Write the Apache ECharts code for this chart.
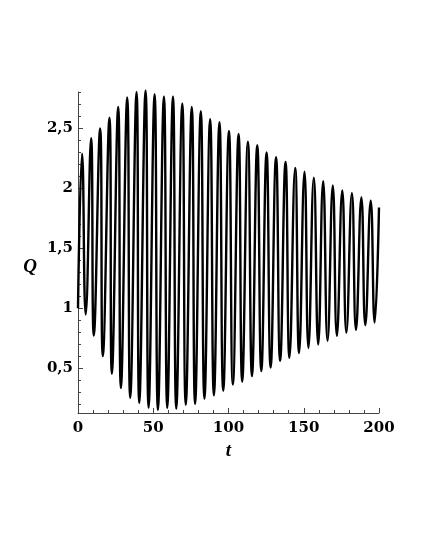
<!DOCTYPE html>
<html><head><meta charset="utf-8">
<script src="https://cdn.jsdelivr.net/npm/echarts@6/dist/echarts.min.js"></script>
<style>html,body{margin:0;padding:0;background:#fff}#c{width:425px;height:550px}</style>
</head><body><div id="c"></div>
<script>
// Start and end of the curve
const startT = 0, startQ = 1.0;
const endT = 200, endQ = 1.84;
// Local maxima of Q(t)
const peakT = [2.7, 8.7, 14.7, 20.9, 26.7, 32.7, 38.9, 44.9, 50.9, 57.1, 63.1, 69.3, 75.6, 81.6, 87.8, 94.0,
  100.3, 106.7, 112.9, 119.1, 125.3, 131.6, 137.9, 144.3, 150.5, 156.7, 162.9, 169.3, 175.6, 182.0, 188.3, 194.5];
const peakQ = [2.29, 2.42, 2.50, 2.59, 2.68, 2.76, 2.805, 2.817, 2.786, 2.767, 2.767, 2.71, 2.68, 2.645, 2.578, 2.553,
  2.48, 2.455, 2.39, 2.36, 2.30, 2.26, 2.22, 2.17, 2.14, 2.09, 2.06, 2.025, 1.984, 1.96, 1.925, 1.897];
// Local minima of Q(t)
const troughT = [5.1, 10.5, 16.5, 22.5, 28.5, 34.7, 40.7, 46.9, 53.1, 59.3, 65.3, 71.6, 77.8, 84.0, 90.3, 96.5,
  102.9, 109.1, 115.6, 121.8, 128.0, 134.3, 140.5, 146.9, 153.1, 159.6, 165.8, 172.0, 178.3, 184.7, 190.9, 197.1];
const troughQ = [0.947, 0.772, 0.60, 0.452, 0.333, 0.25, 0.208, 0.169, 0.15, 0.167, 0.161, 0.194, 0.20, 0.244, 0.272, 0.31,
  0.363, 0.386, 0.433, 0.475, 0.505, 0.561, 0.586, 0.625, 0.669, 0.697, 0.727, 0.769, 0.797, 0.819, 0.858, 0.88];
// Axes
const xMin = 0, xMax = 200, xInterval = 50;
const yMin = 0.125, yMax = 2.805;
const yLabelTicks = [0.5, 1, 1.5, 2, 2.5];
const yMinorTicks = [0.2, 0.3, 0.4, 0.6, 0.7, 0.8, 0.9, 1.1, 1.2, 1.3, 1.4, 1.6, 1.7, 1.8, 1.9,
  2.1, 2.2, 2.3, 2.4, 2.6, 2.7, 2.8];

const data = [[startT, startQ]];
for (let i = 0; i < peakT.length; i++) {
  data.push([peakT[i], peakQ[i]]);
  data.push([troughT[i], troughQ[i]]);
}
data.push([endT, endQ]);

const labelFont = { fontFamily: 'DejaVu Serif', fontWeight: 'bold', fontSize: 15, color: '#000' };
const nameFont = { fontFamily: 'Liberation Serif', fontWeight: 'bold', fontStyle: 'italic', fontSize: 19, color: '#000' };
const lineStyle = { color: '#444', width: 1 };
const fmt = v => String(v).replace('.', ',');

const chart = echarts.init(document.getElementById('c'), null, { renderer: 'canvas' });
chart.setOption({
  animation: false,
  backgroundColor: '#fff',
  grid: { left: 78, right: 46, top: 92, bottom: 137 },
  xAxis: {
    type: 'value', min: xMin, max: xMax, interval: xInterval,
    name: 't', nameLocation: 'middle', nameGap: 29, nameTextStyle: nameFont,
    axisLine: { show: true, onZero: false, lineStyle: lineStyle },
    axisTick: { show: true, inside: true, length: 5, lineStyle: lineStyle },
    minorTick: { show: true, splitNumber: 5, length: 3, lineStyle: lineStyle },
    axisLabel: Object.assign({ margin: 8, formatter: fmt }, labelFont),
    splitLine: { show: false }
  },
  yAxis: [{
    type: 'value', position: 'left', min: yMin, max: yMax,
    name: 'Q', nameLocation: 'middle', nameRotate: 0, nameGap: 41,
    nameTextStyle: Object.assign({ verticalAlign: 'top', lineHeight: 29 }, nameFont),
    axisLine: { show: true, onZero: false, lineStyle: lineStyle },
    axisTick: { show: true, inside: true, length: 5, customValues: yLabelTicks, lineStyle: lineStyle },
    axisLabel: Object.assign({ margin: 5, customValues: yLabelTicks, formatter: fmt }, labelFont),
    splitLine: { show: false }
  }, {
    type: 'value', position: 'left', min: yMin, max: yMax,
    axisLine: { show: false },
    axisTick: { show: true, inside: true, length: 3, customValues: yMinorTicks, lineStyle: lineStyle },
    axisLabel: { show: false },
    splitLine: { show: false }
  }],
  series: [{
    type: 'line', data: data, xAxisIndex: 0, yAxisIndex: 0,
    showSymbol: false, smooth: 0.5, clip: false,
    lineStyle: { color: '#000', width: 2.4 }
  }]
});
</script></body></html>
